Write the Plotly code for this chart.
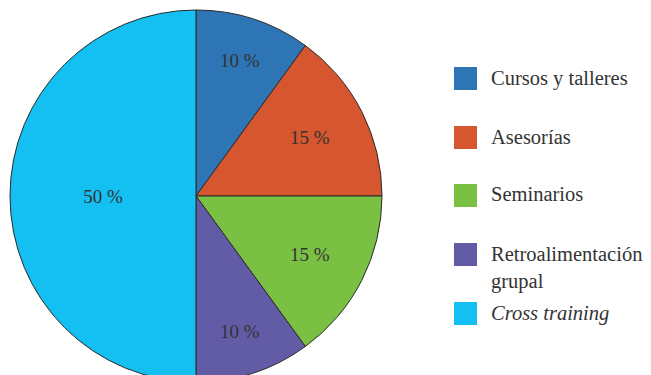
import plotly.graph_objects as go

labels = ["Cursos y talleres", "Asesorías", "Seminarios", "Retroalimentación<br>grupal", "<i>Cross training</i>"]
values = [10, 15, 15, 10, 50]
colors = ["#2E75B6", "#D5562F", "#7AC143", "#625CA7", "#14C0F2"]

W, H = 651, 392
MT, MB = 10, 10
FONT = "Liberation Serif"

fig = go.Figure(go.Pie(
    labels=labels, values=values, sort=False, direction="clockwise", rotation=0,
    marker=dict(colors=colors, line=dict(color="#2b2b2b", width=1)),
    texttemplate="%{value} %", textposition="inside", insidetextorientation="horizontal",
    textfont=dict(family=FONT, size=19, color="#333333"),
    domain=dict(x=[10 / W, 382 / W], y=[0, 1]),
    showlegend=False, hoverinfo="label+percent",
))

def py(p):
    return 1 - (p - MT) / (H - MT - MB)

def px(p):
    return p / W

centers = [78.5, 137.5, 195.5, 254.5, 313.5]
shapes, annos = [], []
for lab, col, cy in zip(labels, colors, centers):
    shapes.append(dict(type="rect", xref="paper", yref="paper",
                       x0=px(454), x1=px(477), y0=py(cy - 11.5), y1=py(cy + 11.5),
                       fillcolor=col, line=dict(width=0)))
    annos.append(dict(xref="paper", yref="paper", x=px(489), y=py(cy - 14),
                      xanchor="left", yanchor="top", align="left", showarrow=False,
                      text=lab, font=dict(family=FONT, size=20.5, color="#333333")))

fig.update_layout(width=W, height=H, margin=dict(l=0, r=0, t=MT, b=MB),
                  paper_bgcolor="white", plot_bgcolor="white",
                  shapes=shapes, annotations=annos)
fig.write_html("out.html")
